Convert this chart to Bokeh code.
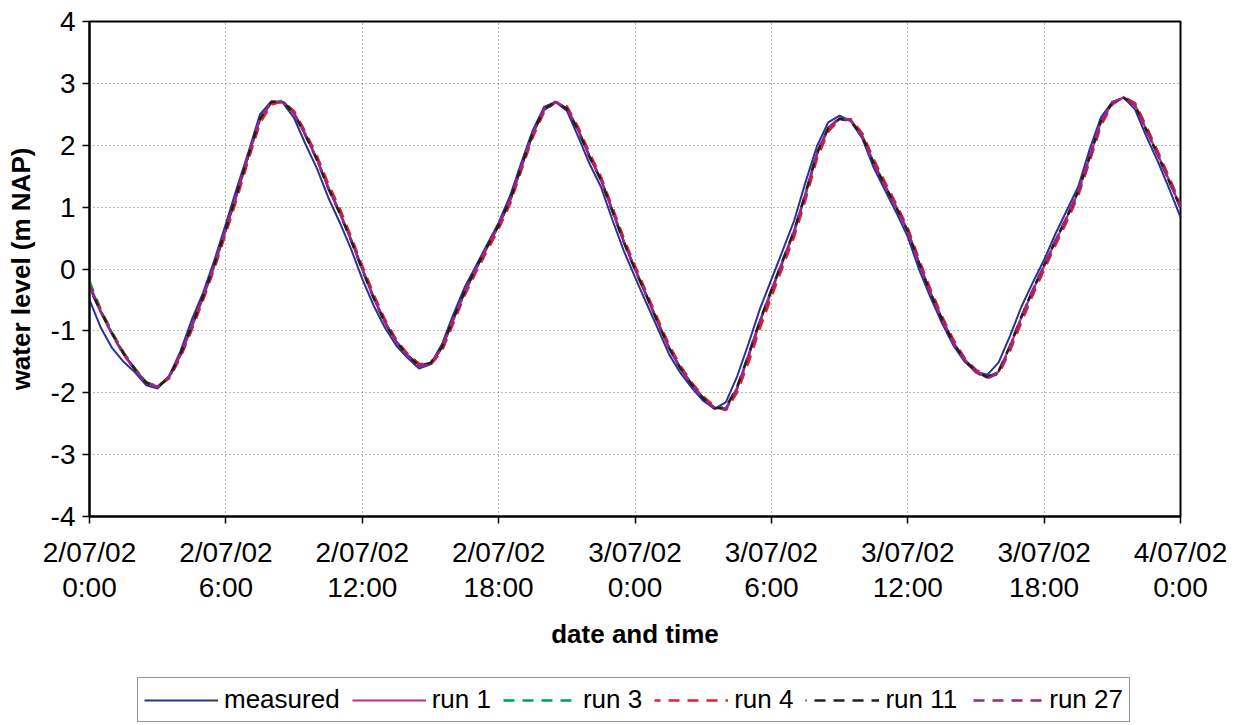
from bokeh.plotting import figure
from bokeh.layouts import column
from bokeh.models import FixedTicker, Legend, LegendItem
from bokeh.embed import file_html
from bokeh.resources import INLINE

# time in hours since 2/07/02 0:00, half-hourly samples
measured = [
    -0.50, -0.95, -1.28, -1.50, -1.67, -1.88, -1.93, -1.73, -1.33, -0.82, -0.38, 0.15,
    0.73, 1.33, 1.90, 2.50, 2.71, 2.69, 2.44, 2.02, 1.63, 1.16, 0.76, 0.33,
    -0.16, -0.59, -0.95, -1.24, -1.44, -1.61, -1.54, -1.22, -0.74, -0.30, 0.05, 0.40,
    0.75, 1.18, 1.72, 2.24, 2.62, 2.70, 2.56, 2.14, 1.70, 1.33, 0.80, 0.30,
    -0.13, -0.55, -0.96, -1.38, -1.68, -1.92, -2.13, -2.26, -2.15, -1.73, -1.20, -0.64,
    -0.17, 0.30, 0.78, 1.40, 1.98, 2.37, 2.48, 2.39, 2.11, 1.64, 1.27, 0.91,
    0.52, -0.01, -0.46, -0.87, -1.23, -1.50, -1.66, -1.71, -1.51, -1.08, -0.61, -0.22,
    0.15, 0.57, 0.95, 1.33, 1.93, 2.45, 2.70, 2.77, 2.58, 2.14, 1.74, 1.30,
    0.84,
]
run_1 = [
    -0.30, -0.70, -1.05, -1.37, -1.62, -1.84, -1.90, -1.74, -1.39, -0.93, -0.45, 0.07,
    0.64, 1.23, 1.84, 2.42, 2.69, 2.70, 2.52, 2.17, 1.78, 1.32, 0.92, 0.48,
    0.00, -0.46, -0.86, -1.17, -1.39, -1.55, -1.53, -1.28, -0.82, -0.38, 0.00, 0.35,
    0.70, 1.10, 1.65, 2.18, 2.57, 2.70, 2.60, 2.25, 1.82, 1.45, 0.95, 0.45,
    0.00, -0.42, -0.85, -1.27, -1.60, -1.86, -2.08, -2.24, -2.25, -1.92, -1.40, -0.85,
    -0.36, 0.12, 0.60, 1.20, 1.85, 2.27, 2.43, 2.40, 2.15, 1.72, 1.35, 1.00,
    0.62, 0.10, -0.38, -0.80, -1.18, -1.46, -1.65, -1.75, -1.66, -1.25, -0.78, -0.35,
    0.05, 0.45, 0.83, 1.25, 1.80, 2.38, 2.68, 2.77, 2.65, 2.25, 1.85, 1.43,
    1.00,
]
run_3 = [
    -0.20, -0.66, -1.03, -1.35, -1.61, -1.83, -1.90, -1.76, -1.41, -0.95, -0.47, 0.05,
    0.62, 1.20, 1.82, 2.40, 2.68, 2.72, 2.54, 2.19, 1.80, 1.35, 0.95, 0.50,
    0.02, -0.44, -0.84, -1.16, -1.38, -1.54, -1.54, -1.30, -0.85, -0.40, -0.02, 0.33,
    0.68, 1.08, 1.63, 2.16, 2.56, 2.70, 2.62, 2.27, 1.85, 1.47, 0.97, 0.47,
    0.02, -0.40, -0.83, -1.25, -1.58, -1.85, -2.07, -2.23, -2.26, -1.95, -1.45, -0.90,
    -0.40, 0.08, 0.56, 1.16, 1.82, 2.25, 2.43, 2.42, 2.18, 1.75, 1.38, 1.02,
    0.64, 0.12, -0.36, -0.78, -1.16, -1.45, -1.64, -1.74, -1.67, -1.28, -0.82, -0.38,
    0.02, 0.42, 0.80, 1.22, 1.77, 2.35, 2.67, 2.78, 2.67, 2.28, 1.88, 1.46,
    1.03,
]
run_4 = [
    -0.27, -0.68, -1.04, -1.36, -1.62, -1.84, -1.89, -1.77, -1.43, -0.98, -0.50, 0.02,
    0.58, 1.16, 1.78, 2.36, 2.66, 2.71, 2.55, 2.21, 1.83, 1.38, 0.98, 0.53,
    0.05, -0.41, -0.82, -1.15, -1.38, -1.53, -1.55, -1.33, -0.88, -0.43, -0.05, 0.30,
    0.65, 1.05, 1.60, 2.13, 2.54, 2.70, 2.63, 2.29, 1.87, 1.49, 1.00, 0.50,
    0.05, -0.38, -0.81, -1.23, -1.57, -1.84, -2.06, -2.22, -2.28, -1.99, -1.50, -0.95,
    -0.45, 0.04, 0.52, 1.12, 1.78, 2.22, 2.42, 2.42, 2.19, 1.77, 1.40, 1.04,
    0.66, 0.15, -0.33, -0.76, -1.14, -1.44, -1.63, -1.74, -1.70, -1.32, -0.86, -0.42,
    -0.01, 0.39, 0.77, 1.19, 1.74, 2.32, 2.66, 2.78, 2.68, 2.30, 1.90, 1.48,
    1.05,
]
run_11 = [
    -0.30, -0.69, -1.05, -1.37, -1.62, -1.84, -1.91, -1.75, -1.38, -0.92, -0.44, 0.08,
    0.65, 1.24, 1.85, 2.43, 2.70, 2.71, 2.51, 2.16, 1.77, 1.31, 0.91, 0.47,
    -0.01, -0.47, -0.87, -1.18, -1.40, -1.56, -1.52, -1.27, -0.81, -0.37, 0.01, 0.36,
    0.71, 1.11, 1.66, 2.19, 2.58, 2.70, 2.59, 2.24, 1.81, 1.44, 0.94, 0.44,
    -0.01, -0.43, -0.86, -1.28, -1.61, -1.87, -2.09, -2.25, -2.24, -1.90, -1.38, -0.83,
    -0.34, 0.14, 0.62, 1.22, 1.87, 2.28, 2.43, 2.39, 2.14, 1.71, 1.34, 0.99,
    0.61, 0.09, -0.39, -0.81, -1.19, -1.47, -1.66, -1.75, -1.65, -1.24, -0.77, -0.34,
    0.06, 0.46, 0.84, 1.26, 1.81, 2.39, 2.69, 2.77, 2.64, 2.24, 1.84, 1.42,
    0.99,
]
run_27 = [
    -0.26, -0.69, -1.06, -1.38, -1.63, -1.85, -1.91, -1.74, -1.38, -0.92, -0.45, 0.08,
    0.65, 1.24, 1.86, 2.43, 2.70, 2.70, 2.51, 2.17, 1.78, 1.32, 0.92, 0.48,
    0.00, -0.46, -0.86, -1.18, -1.41, -1.57, -1.54, -1.28, -0.82, -0.38, 0.00, 0.36,
    0.71, 1.11, 1.66, 2.19, 2.58, 2.70, 2.60, 2.25, 1.82, 1.45, 0.95, 0.45,
    0.00, -0.43, -0.86, -1.28, -1.61, -1.87, -2.09, -2.25, -2.27, -1.93, -1.39, -0.84,
    -0.35, 0.13, 0.61, 1.21, 1.86, 2.28, 2.44, 2.40, 2.14, 1.71, 1.34, 0.99,
    0.61, 0.09, -0.39, -0.81, -1.19, -1.47, -1.67, -1.77, -1.68, -1.26, -0.78, -0.34,
    0.06, 0.46, 0.84, 1.26, 1.81, 2.39, 2.69, 2.77, 2.64, 2.24, 1.84, 1.42,
    1.00,
]

series_names = ["measured", "run 1", "run 3", "run 4", "run 11", "run 27"]
series_values = [measured, run_1, run_3, run_4, run_11, run_27]
series_colors = ["#2E3192", "#C22B8E", "#00A14B", "#ED1C24", "#231F20", "#92278F"]
series_dashes = ["solid", "solid", "11 8", "11 8", "11 8", "11 8"]
series_dash_offsets = [0, 0, 0, 5, 10, 15]
series_widths = [2.0, 2.2, 2.6, 2.6, 2.6, 2.6]

x_tick_hours = [0, 6, 12, 18, 24, 30, 36, 42, 48]
x_tick_labels = ["2/07/02\n0:00", "2/07/02\n6:00", "2/07/02\n12:00", "2/07/02\n18:00",
                 "3/07/02\n0:00", "3/07/02\n6:00", "3/07/02\n12:00", "3/07/02\n18:00",
                 "4/07/02\n0:00"]
y_ticks = [-4, -3, -2, -1, 0, 1, 2, 3, 4]
y_tick_labels = ["-4", "-3", "-2", "-1", "0", "1", "2", "3", "4"]

FONT = "Liberation Sans"
LEFT, RIGHT = 89, 54

p = figure(frame_width=1091, frame_height=495, x_range=(0, 48), y_range=(-4, 4),
           output_backend="svg", toolbar_location=None,
           min_border_left=LEFT, min_border_right=RIGHT, min_border_top=21,
           min_border_bottom=144,
           background_fill_color="white", border_fill_color="white")

p.outline_line_color = "#000000"
p.outline_line_width = 2

renderers = []
for vals, col, dash, off, w in zip(series_values, series_colors, series_dashes,
                                   series_dash_offsets, series_widths):
    hours = [0.5 * i for i in range(len(vals))]
    r = p.line(hours, vals, line_color=col, line_width=w, line_dash=dash,
               line_dash_offset=off)
    renderers.append(r)

# axes
p.xaxis.ticker = FixedTicker(ticks=x_tick_hours)
p.xaxis.major_label_overrides = {h: lab for h, lab in zip(x_tick_hours, x_tick_labels)}
p.yaxis.ticker = FixedTicker(ticks=y_ticks)
p.yaxis.major_label_overrides = {v: lab for v, lab in zip(y_ticks, y_tick_labels)}
for ax in (p.xaxis[0], p.yaxis[0]):
    ax.axis_line_color = "#000000"
    ax.axis_line_width = 2
    ax.major_tick_line_color = "#000000"
    ax.major_tick_line_width = 1.5
    ax.major_tick_in = 0
    ax.major_tick_out = 7
    ax.minor_tick_line_color = None
    ax.major_label_text_font = FONT
    ax.major_label_text_font_size = "28px"
    ax.major_label_text_color = "#000000"
    ax.axis_label_text_font = FONT
    ax.axis_label_text_font_size = "26px"
    ax.axis_label_text_font_style = "bold"
    ax.axis_label_text_color = "#000000"

p.xaxis.axis_label = "date and time"
p.yaxis.axis_label = "water level (m NAP)"
p.xaxis.major_label_standoff = 13
p.xaxis.major_label_text_line_height = 1.15
p.xaxis.axis_label_standoff = 13
p.yaxis.major_label_standoff = 7
p.yaxis.axis_label_standoff = 12

for g in (p.xgrid[0], p.ygrid[0]):
    g.grid_line_color = "#707070"
    g.grid_line_dash = "1 3"
    g.grid_line_width = 1

# legend strip below the chart (its frame lines up with the chart frame)
pl = figure(width=1234, height=65, x_range=(1000, 1001), y_range=(1000, 1001),
            x_axis_type=None, y_axis_type=None,
            output_backend="svg", toolbar_location=None,
            min_border_left=LEFT, min_border_right=RIGHT, min_border_top=0,
            min_border_bottom=0,
            background_fill_color="white", border_fill_color="white")
pl.outline_line_color = None
pl.grid.visible = False
legend_renderers = []
for vals, col, dash, off, w in zip(series_values, series_colors, series_dashes,
                                   series_dash_offsets, series_widths):
    hours = [0.5 * i for i in range(len(vals))]
    legend_renderers.append(pl.line(hours, vals, line_color=col, line_width=w,
                                    line_dash=dash, line_dash_offset=off))

items = [LegendItem(label=n, renderers=[r]) for n, r in zip(series_names, legend_renderers)]
legend = Legend(items=items, orientation="horizontal", location=(137 - LEFT, 3),
                glyph_width=74, glyph_height=20, label_standoff=6, spacing=12,
                padding=6, margin=0,
                label_text_font=FONT, label_text_font_size="26px", label_text_color="#000000",
                border_line_color="#333333", border_line_width=1.5,
                background_fill_color="white", background_fill_alpha=1)
pl.add_layout(legend)

layout = column(p, pl, spacing=0)
open("out.html", "w").write(file_html(layout, INLINE))
